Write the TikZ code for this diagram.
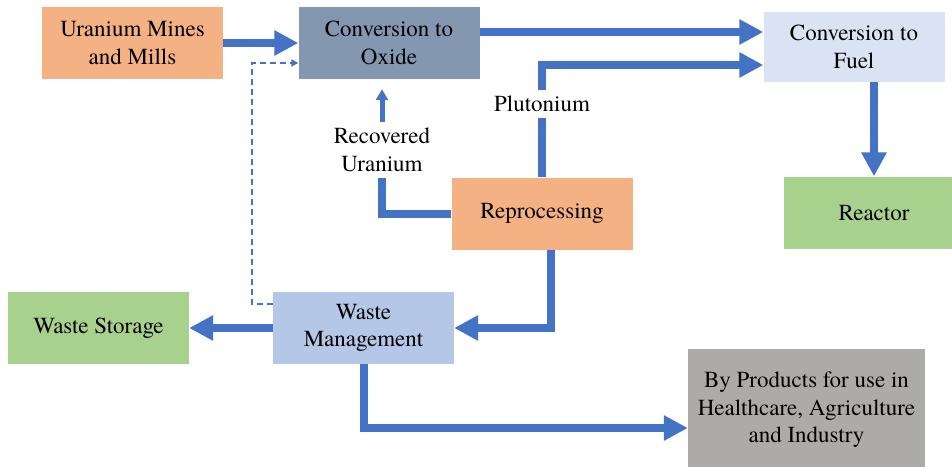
\documentclass[tikz,border=0pt]{standalone}
\usepackage{fontspec}
\setmainfont{texgyretermes}[Extension=.otf,UprightFont=*-regular,BoldFont=*-bold,ItalicFont=*-italic,BoldItalicFont=*-bolditalic]
\usepackage{xcolor}
\usetikzlibrary{arrows.meta,calc}
\definecolor{minecol}{HTML}{F4B183}
\definecolor{oxidecol}{HTML}{8497B0}
\definecolor{fuelcol}{HTML}{DAE3F3}
\definecolor{greencol}{HTML}{A9D18E}
\definecolor{wastecol}{HTML}{B4C7E7}
\definecolor{bycol}{HTML}{AEAAAA}
\definecolor{flowcol}{HTML}{4472C4}

\begin{document}
\begin{tikzpicture}[x=1pt,y=-1pt,
  font=\fontsize{23}{27.6}\selectfont,
  box/.style={minimum width=181pt,minimum height=72pt,inner sep=2pt,align=center},
  lbl/.style={inner sep=6pt,align=center},
  flow/.style={draw=flowcol,line width=8pt,-{Triangle[length=24pt,width=24pt]}},
  plainflow/.style={draw=flowcol,line width=8pt},
  smallflow/.style={draw=flowcol,line width=5pt,-{Triangle[length=11pt,width=12pt]}},
  dashflow/.style={draw=flowcol,line width=2pt,dash pattern=on 6pt off 4pt,-{Triangle[length=7pt,width=7pt]}}]

\useasboundingbox (0,0) rectangle (952,466);

% Boxes
\node[box,fill=minecol]  (mines)   at (132.5,43)  {Uranium Mines\\and Mills};
\node[box,fill=oxidecol] (oxide)   at (389,43)    {Conversion to\\Oxide};
\node[box,fill=fuelcol,minimum height=70pt] (fuel) at (854,47) {Conversion to\\Fuel};
\node[box,fill=greencol] (reactor) at (874,212.5) {Reactor};
\node[box,fill=minecol]  (repro)   at (542,213.5) {Reprocessing};
\node[box,fill=wastecol] (waste)   at (363.5,328) {Waste\\Management};
\node[box,fill=greencol] (storage) at (98.5,328)  {Waste Storage};
\node[box,fill=bycol,minimum width=237pt,minimum height=122pt] (byprod) at (806.5,410)
  {By Products for use in\\Healthcare, Agriculture\\and Industry};

% Labels on the recycle lines
\node[lbl] (ru) at (382,150) {Recovered\\Uranium};
\node[lbl] (pu) at (542,104) {Plutonium};

% Coordinates where lines meet Conversion to Fuel
\coordinate (fuelin) at ([yshift=15pt]fuel.west);
\coordinate (puin)   at ([yshift=-18pt]fuel.west);

% Main flow
\draw[flow] (mines) -- (oxide);
\draw[flow] (oxide.east |- fuelin) -- (fuelin);
\draw[flow] (fuel.south -| reactor.north) -- (reactor.north);

% Reprocessing outputs
\draw[plainflow] (repro.west) -| (ru.south);
\draw[smallflow,shorten >=10pt] (ru.north) -- (ru.north |- oxide.south);
\draw[plainflow] (repro.north) -- (pu.south);
\draw[flow] (pu.north) |- (puin);
\draw[flow] ([xshift=9pt]repro.south) |- (waste.east);

% Waste management outputs
\draw[flow] (waste.west) -- (storage.east);
\draw[flow] (waste.south) |- ([yshift=-18pt]byprod.west);
\draw[dashflow] ([yshift=24pt]waste.west) -- ++(-21,0) |- ([yshift=-20pt]oxide.west);

\end{tikzpicture}
\end{document}
